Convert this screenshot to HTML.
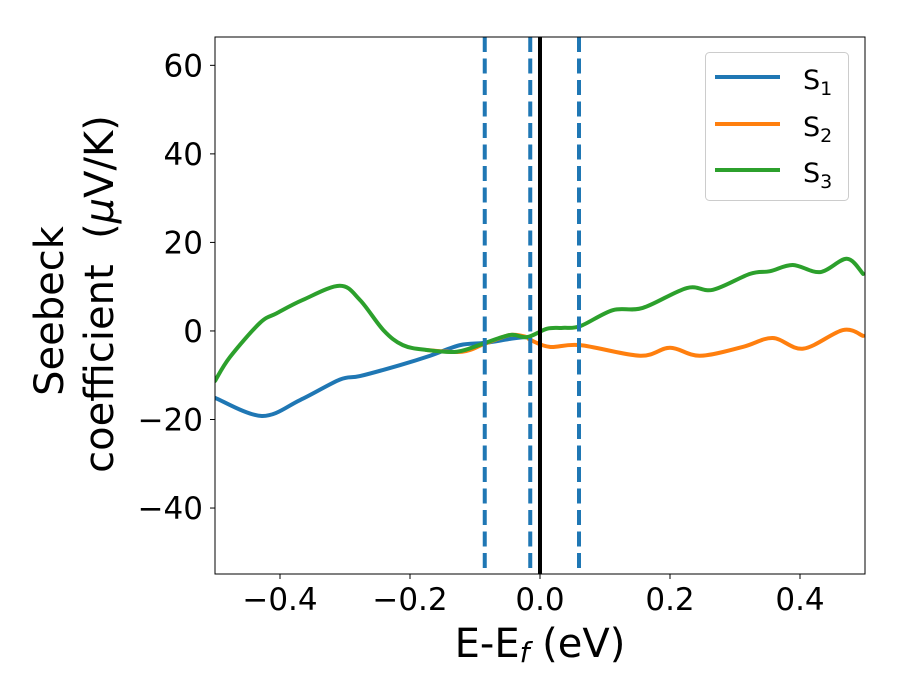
<!DOCTYPE html>
<html><head><meta charset="utf-8">
<style>
html,body{margin:0;padding:0;background:#fff;}
svg{display:block;font-family:"DejaVu Sans","Liberation Sans",sans-serif;}
</style></head>
<body>
<svg id="chart" width="900" height="700" viewBox="0 0 900 700">
  <rect x="0" y="0" width="900" height="700" fill="#fff"/>
  <g id="plot"></g>
  <text x="540" y="657" font-size="40" text-anchor="middle">E-E<tspan font-style="italic" font-size="28" dy="5">f</tspan><tspan dy="-5"> (eV)</tspan></text>
  <text transform="translate(63,311) rotate(-90)" font-size="40" text-anchor="middle">Seebeck</text>
  <text transform="translate(113,294) rotate(-90)" font-size="40" text-anchor="middle">coefficient&#160; (<tspan font-style="italic">μ</tspan>V/K)</text>
  <g>
    <rect x="705.5" y="52.5" width="143" height="148" rx="4" fill="#fff" stroke="#ccc" stroke-width="1"/>
    <line x1="715" y1="77" x2="780" y2="77" stroke="#1f77b4" stroke-width="4"/>
    <text x="803" y="89" font-size="27">S<tspan font-size="19" dy="6">1</tspan></text>
    <line x1="715" y1="124" x2="780" y2="124" stroke="#ff7f0e" stroke-width="4"/>
    <text x="803" y="136" font-size="27">S<tspan font-size="19" dy="6">2</tspan></text>
    <line x1="715" y1="170" x2="780" y2="170" stroke="#2ca02c" stroke-width="4"/>
    <text x="803" y="182" font-size="27">S<tspan font-size="19" dy="6">3</tspan></text>
  </g>
</svg>
<script>
const xTicks = [-0.4, -0.2, 0.0, 0.2, 0.4];
const xTickLabels = ["\u22120.4", "\u22120.2", "0.0", "0.2", "0.4"];
const yTicks = [-40, -20, 0, 20, 40, 60];
const yTickLabels = ["\u221240", "\u221220", "0", "20", "40", "60"];
const s1X = [-0.5, -0.428, -0.369, -0.308, -0.277, -0.215, -0.169, -0.123, -0.085, -0.046, -0.023, -0.015];
const s1Y = [-15.1, -19.2, -15.6, -11.0, -10.2, -7.7, -5.6, -3.2, -2.7, -1.8, -1.4, -1.8];
const s2X = [-0.175, -0.12, -0.085, -0.046, -0.02, -0.015, 0.015, 0.062, 0.154, 0.2, 0.246, 0.312, 0.358, 0.405, 0.466, 0.497];
const s2Y = [-4.3, -4.7, -2.9, -0.9, -1.4, -2.0, -3.6, -3.2, -5.6, -3.8, -5.6, -3.6, -1.6, -4.0, 0.2, -1.1];
const s3X = [-0.5, -0.477, -0.431, -0.405, -0.365, -0.308, -0.277, -0.241, -0.211, -0.174, -0.128, -0.088, -0.046, -0.02, 0.011, 0.035, 0.062, 0.112, 0.158, 0.226, 0.266, 0.323, 0.354, 0.389, 0.431, 0.472, 0.497];
const s3Y = [-11.3, -5.9, 1.8, 4.0, 7.0, 10.2, 7.0, 0.2, -3.2, -4.3, -4.7, -2.9, -0.9, -1.4, 0.5, 0.7, 1.1, 4.7, 5.2, 9.7, 9.3, 12.9, 13.5, 14.9, 13.3, 16.3, 12.9];
const vLinesDashed = [-0.085, -0.015, 0.06];
const vLineSolid = [0.0];

const L = 215, R = 865, T = 37, B = 574;
const xMin = -0.5, xMax = 0.5, yMin = -54.9, yMax = 66.4;
function sx(v){ return L + (v - xMin) / (xMax - xMin) * (R - L); }
function sy(v){ return B - (v - yMin) / (yMax - yMin) * (B - T); }
const NS = "http://www.w3.org/2000/svg";
const plot = document.getElementById('plot');
function mk(tag, attrs){ const e = document.createElementNS(NS, tag); for (const k in attrs) e.setAttribute(k, attrs[k]); return e; }

const clip = mk('clipPath', {id:'clipArea'});
clip.appendChild(mk('rect', {x:L, y:T, width:R-L, height:B-T}));
const defs = mk('defs', {}); defs.appendChild(clip); plot.appendChild(defs);

function smoothPath(xs, ys){
  const p = xs.map((x,i)=>[sx(x), sy(ys[i])]);
  let d = 'M' + p[0][0] + ',' + p[0][1];
  for (let i = 0; i < p.length - 1; i++){
    const p0 = p[Math.max(0,i-1)], p1 = p[i], p2 = p[i+1], p3 = p[Math.min(p.length-1,i+2)];
    const c1x = p1[0] + (p2[0]-p0[0])/6, c1y = p1[1] + (p2[1]-p0[1])/6;
    const c2x = p2[0] - (p3[0]-p1[0])/6, c2y = p2[1] - (p3[1]-p1[1])/6;
    d += ' C' + c1x + ',' + c1y + ' ' + c2x + ',' + c2y + ' ' + p2[0] + ',' + p2[1];
  }
  return d;
}

const g = mk('g', {'clip-path':'url(#clipArea)'});
plot.appendChild(g);

const series = [[s1X, s1Y, '#1f77b4', 'series-s1'], [s2X, s2Y, '#ff7f0e', 'series-s2'], [s3X, s3Y, '#2ca02c', 'series-s3']];
series.forEach(s => {
  const path = mk('path', {d: smoothPath(s[0], s[1]), fill:'none', stroke:s[2], 'stroke-width':4, 'stroke-linejoin':'round', 'stroke-linecap':'round'});
  
  
  g.appendChild(path);
});
vLinesDashed.forEach(v => {
  const ln = mk('line', {x1:sx(v), x2:sx(v), y1:T, y2:B, stroke:'#1f77b4', 'stroke-width':4, 'stroke-dasharray':'15 6.5'});
  
  
  g.appendChild(ln);
});
vLineSolid.forEach(v => {
  const ln = mk('line', {x1:sx(v), x2:sx(v), y1:T, y2:B, stroke:'#000', 'stroke-width':4});
  
  
  g.appendChild(ln);
});

const frame = mk('rect', {x:L, y:T, width:R-L, height:B-T, fill:'none', stroke:'#000', 'stroke-width':1});


plot.appendChild(frame);

xTicks.forEach((v,i) => {
  const t = mk('line', {x1:sx(v), x2:sx(v), y1:B, y2:B+5, stroke:'#000', 'stroke-width':1});
  
  
  plot.appendChild(t);
  const tx = mk('text', {x:sx(v), y:B+36, 'font-size':31, 'text-anchor':'middle'});
  tx.textContent = xTickLabels[i];
  
  
  plot.appendChild(tx);
});
yTicks.forEach((v,i) => {
  const t = mk('line', {x1:L-5, x2:L, y1:sy(v), y2:sy(v), stroke:'#000', 'stroke-width':1});
  
  
  plot.appendChild(t);
  const tx = mk('text', {x:L-12, y:sy(v)+11, 'font-size':31, 'text-anchor':'end'});
  tx.textContent = yTickLabels[i];
  
  
  plot.appendChild(tx);
});
</script>
</body></html>
